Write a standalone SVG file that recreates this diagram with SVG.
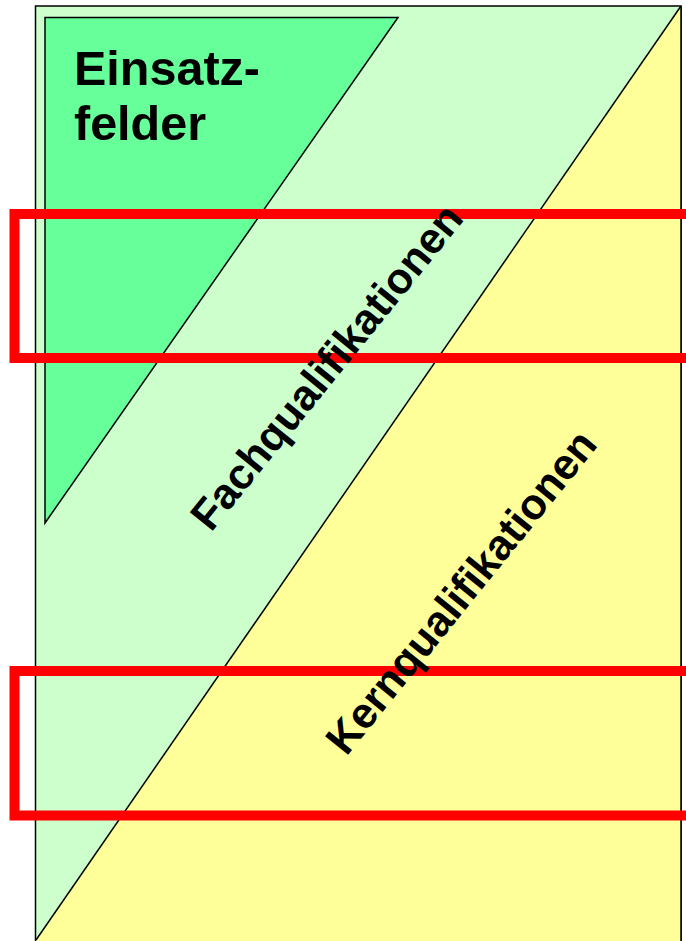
<svg xmlns="http://www.w3.org/2000/svg" width="686" height="941" viewBox="0 0 686 941">
<style>
.lbl{font-family:"Liberation Sans",Arial,sans-serif;font-weight:bold;fill:#000}
.red{fill:none;stroke:#FF0000;stroke-width:10}
.edge{stroke:#000;stroke-width:1.5}
</style>
<rect width="686" height="941" fill="#fff"/>
<g id="fachqualifikationen-area">
<rect x="35.5" y="6" width="645.5" height="945" fill="#CCFFCC" class="edge"/>
</g>
<g id="kernqualifikationen-area">
<polygon points="681,6 681,951 36,951 36,940" fill="#FFFF99"/>
<line x1="681" y1="6" x2="36" y2="940" class="edge"/>
<line x1="681" y1="6" x2="681" y2="941" class="edge"/>
</g>
<g id="einsatzfelder">
<polygon points="45,17.5 398,17.5 45,523" fill="#66FF99" class="edge"/>
<text class="lbl" x="74" y="85" font-size="48.5">Einsatz-</text>
<text class="lbl" x="74" y="140" font-size="48.5">felder</text>
</g>
<g id="highlights">
<rect class="red" x="14.5" y="214" width="700" height="144"/>
<rect class="red" x="14.5" y="671" width="700" height="144.5"/>
</g>
<g id="labels">
<text class="lbl" font-size="43" text-anchor="middle" transform="translate(338,376) rotate(-51)">Fachqualifikationen</text>
<text class="lbl" font-size="43" text-anchor="middle" transform="translate(472.5,601) rotate(-51)">Kernqualifikationen</text>
</g>
<g id="connectors"/>
</svg>
